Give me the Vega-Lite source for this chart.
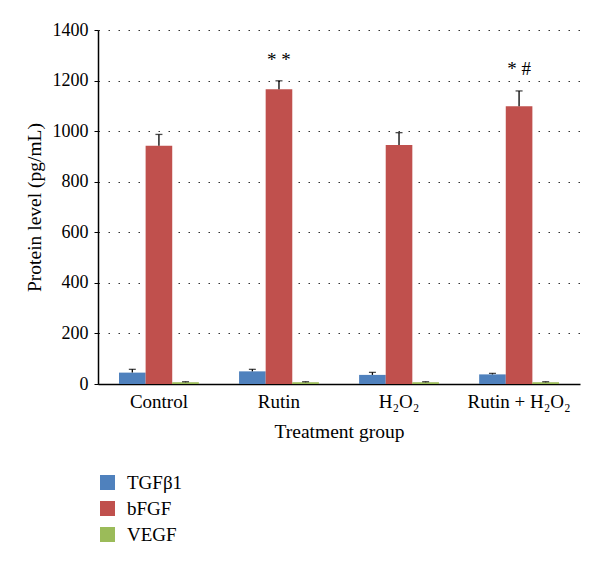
{
  "$schema": "https://vega.github.io/schema/vega-lite/v6.json",
  "width": 482,
  "height": 354,
  "autosize": {"type": "none"},
  "padding": {"left": 98, "top": 30, "right": 20, "bottom": 181},
  "background": "white",
  "config": {
    "font": "Liberation Serif",
    "view": {"stroke": null}
  },
  "datasets": {
    "bars": [
      {"group": "Control", "protein": "TGFβ1", "value": 45, "hi": 58},
      {"group": "Control", "protein": "bFGF", "value": 942, "hi": 987},
      {"group": "Control", "protein": "VEGF", "value": 7, "hi": 9},
      {"group": "Rutin", "protein": "TGFβ1", "value": 50, "hi": 58},
      {"group": "Rutin", "protein": "bFGF", "value": 1166, "hi": 1199},
      {"group": "Rutin", "protein": "VEGF", "value": 7, "hi": 9},
      {"group": "H₂O₂", "protein": "TGFβ1", "value": 36, "hi": 46},
      {"group": "H₂O₂", "protein": "bFGF", "value": 945, "hi": 994},
      {"group": "H₂O₂", "protein": "VEGF", "value": 7, "hi": 9},
      {"group": "Rutin + H₂O₂", "protein": "TGFβ1", "value": 38, "hi": 42},
      {"group": "Rutin + H₂O₂", "protein": "bFGF", "value": 1098, "hi": 1159},
      {"group": "Rutin + H₂O₂", "protein": "VEGF", "value": 7, "hi": 9}
    ],
    "notes": [
      {"group": "Rutin", "protein": "bFGF", "y": 1281, "label": "*  *"},
      {"group": "Rutin + H₂O₂", "protein": "bFGF", "y": 1246, "label": "*  #"}
    ]
  },
  "encoding": {
    "x": {
      "field": "group",
      "type": "nominal",
      "sort": ["Control", "Rutin", "H₂O₂", "Rutin + H₂O₂"],
      "scale": {"paddingInner": 0.335, "paddingOuter": 0.175},
      "axis": {
        "title": "Treatment group",
        "titleFontSize": 19.5,
        "titleFontWeight": "normal",
        "titleColor": "black",
        "titlePadding": 11,
        "labelAngle": 0,
        "labelFontSize": 19,
        "labelColor": "black",
        "labelPadding": 8,
        "ticks": false,
        "domainColor": "black",
        "domainWidth": 1.5,
        "grid": false
      }
    },
    "xOffset": {
      "field": "protein",
      "type": "nominal",
      "sort": ["TGFβ1", "bFGF", "VEGF"],
      "scale": {"paddingInner": 0, "paddingOuter": 0}
    }
  },
  "layer": [
    {
      "data": {"name": "bars"},
      "mark": {"type": "bar"},
      "encoding": {
        "y": {
          "field": "value",
          "type": "quantitative",
          "scale": {"domain": [0, 1400], "nice": false},
          "axis": {
            "title": "Protein level (pg/mL)",
            "titleFontSize": 19.5,
            "titleFontWeight": "normal",
            "titleColor": "black",
            "titlePadding": 8,
            "values": [0, 200, 400, 600, 800, 1000, 1200, 1400],
            "format": "d",
            "labelFontSize": 18,
            "labelColor": "black",
            "labelPadding": 6,
            "tickSize": 4,
            "tickColor": "black",
            "domainColor": "black",
            "domainWidth": 1.5,
            "grid": true,
            "gridColor": "#333",
            "gridDash": [1.5, 8.5],
            "gridWidth": 1.2
          }
        },
        "color": {
          "field": "protein",
          "type": "nominal",
          "sort": ["TGFβ1", "bFGF", "VEGF"],
          "scale": {"domain": ["TGFβ1", "bFGF", "VEGF"], "range": ["#4F81BD", "#C0504D", "#9BBB59"]},
          "legend": {
            "title": null,
            "orient": "none",
            "legendX": 0,
            "legendY": 443,
            "direction": "vertical",
            "symbolType": "square",
            "symbolSize": 225,
            "symbolStrokeWidth": 0,
            "labelFontSize": 19,
            "labelColor": "black",
            "labelOffset": 10,
            "rowPadding": 6
          }
        }
      }
    },
    {
      "data": {"name": "bars"},
      "mark": {"type": "rule", "color": "black", "strokeWidth": 1.3},
      "encoding": {
        "y": {"field": "value", "type": "quantitative"},
        "y2": {"field": "hi"}
      }
    },
    {
      "data": {"name": "bars"},
      "mark": {"type": "tick", "color": "black", "size": 7, "thickness": 1.3, "orient": "horizontal"},
      "encoding": {
        "y": {"field": "hi", "type": "quantitative"}
      }
    },
    {
      "data": {"name": "notes"},
      "mark": {"type": "text", "fontSize": 19, "color": "black", "baseline": "middle"},
      "encoding": {
        "y": {"field": "y", "type": "quantitative"},
        "text": {"field": "label"}
      }
    }
  ]
}
